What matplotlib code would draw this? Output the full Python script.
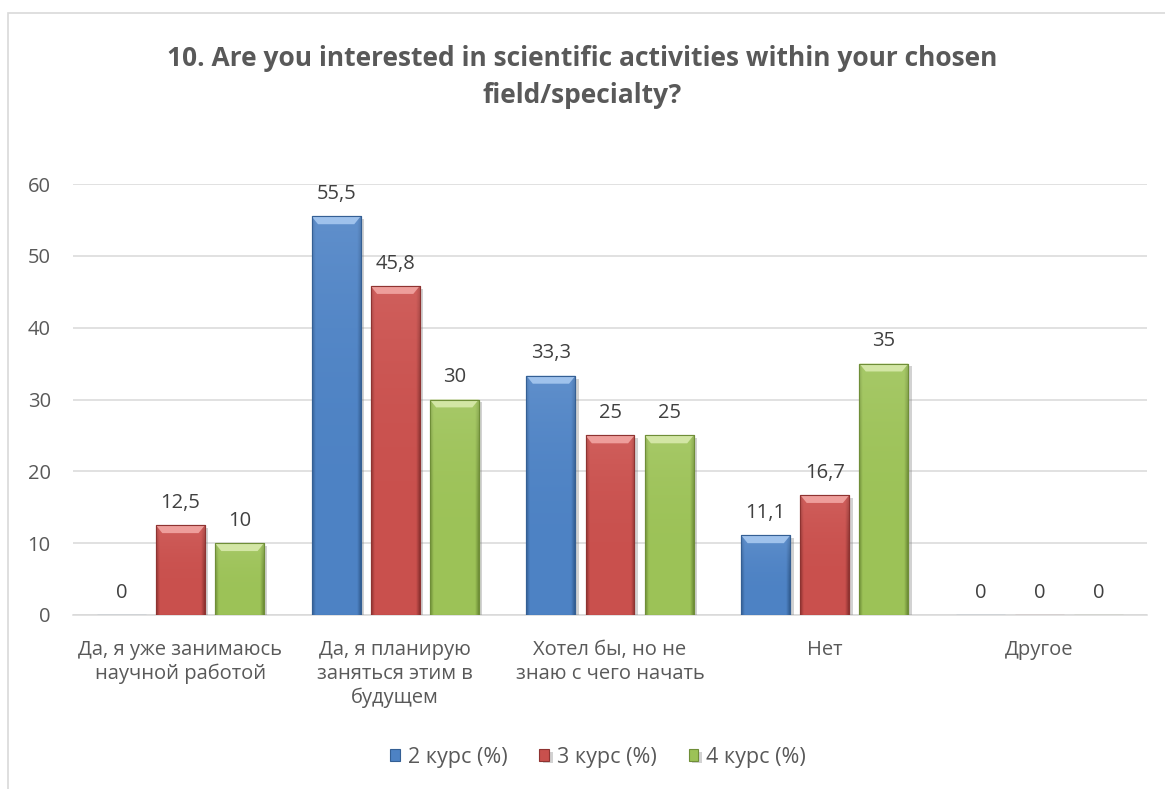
import numpy as np
import matplotlib
matplotlib.use("Agg")
import matplotlib.pyplot as plt
from matplotlib.patches import Rectangle, Polygon
from matplotlib.colors import LinearSegmentedColormap
import matplotlib.patheffects as pe

plt.rcParams['font.family'] = ['Open Sans', 'DejaVu Sans']

title = "10. Are you interested in scientific activities within your chosen\nfield/specialty?"
categories = ["Да, я уже занимаюсь\nнаучной работой",
              "Да, я планирую\nзаняться этим в\nбудущем",
              "Хотел бы, но не\nзнаю с чего начать",
              "Нет",
              "Другое"]
series_names = ["2 курс (%)", "3 курс (%)", "4 курс (%)"]
course2 = [0, 55.5, 33.3, 11.1, 0]
course3 = [12.5, 45.8, 25, 16.7, 0]
course4 = [10, 30, 25, 35, 0]
series = [course2, course3, course4]
yticks = [0, 10, 20, 30, 40, 50, 60]

base_colors = ["#4D82C4", "#C9504D", "#9CC257"]
top_body = ["#6C98D0", "#D46966", "#AECD73"]
dark_colors = ["#345F94", "#8E3331", "#6F8E38"]
top_colors = ["#9FC2EC", "#EE9E9B", "#D3E6A5"]
text_col = "#595959"

fig = plt.figure(figsize=(11.65, 7.89), dpi=100)
fig.patch.set_facecolor("white")
fig.add_artist(Rectangle((8/1165, -0.02), 1.02, 1 - 13/789 + 0.02, transform=fig.transFigure,
                         fill=False, edgecolor="#D9D9D9", linewidth=1.2))

ax = fig.add_axes([73/1165, 1 - 615/789, (1147-73)/1165, (615-184)/789])
x = np.arange(len(categories))
bw = 0.228
step = 0.275

for i, vals in enumerate(series):
    pos = x + (i - 1) * step
    bars = ax.bar(pos, vals, width=bw, color=base_colors[i], edgecolor=dark_colors[i],
                  linewidth=0.8, zorder=3, label=series_names[i])
    hcm = LinearSegmentedColormap.from_list(
        "h", [(0, dark_colors[i]), (0.07, base_colors[i]), (0.93, base_colors[i]), (1, dark_colors[i])])
    for b, v in zip(bars, vals):
        if v > 0:
            b.set_path_effects([pe.SimplePatchShadow(offset=(2.5, -2), shadow_rgbFace="#7F7F7F", alpha=0.35),
                                pe.Normal()])
            x0, w = b.get_x(), b.get_width()
            n = 64
            hg = hcm(np.linspace(0, 1, n))[None, :, :3].repeat(n, axis=0)
            vt = np.linspace(1, 0, n)[:, None, None]
            tc = np.array(matplotlib.colors.to_rgb(top_body[i]))[None, None, :]
            mix = np.clip(vt ** 3, 0, 1) * 0.6
            img = hg * (1 - mix) + tc * mix
            im = ax.imshow(img, extent=(x0, x0 + w, 0, v), aspect='auto',
                           zorder=3.5, interpolation='bilinear')
            im.set_clip_path(b)
            bh = 1.1
            inset = w * 0.13
            ax.add_patch(Polygon([(x0, v), (x0 + w, v), (x0 + w - inset, v - bh), (x0 + inset, v - bh)],
                                 closed=True, facecolor=top_colors[i], edgecolor='none', zorder=4))
            ax.add_patch(Rectangle((x0, 0), w, v, fill=False, edgecolor=dark_colors[i],
                                   linewidth=0.8, zorder=4.5))
        lab = ("%g" % v).replace(".", ",")
        ax.annotate(lab, (b.get_x() + b.get_width() / 2, v), xytext=(0, 9), textcoords='offset points',
                    ha='center', va='bottom', fontsize=14.5, color="#404040", zorder=5)

ax.set_xlim(-0.5, len(categories) - 0.5)
ax.set_ylim(0, 60)
ax.set_yticks(yticks)
ax.set_yticklabels([str(t) for t in yticks])
ax.yaxis.grid(True, color="#D9D9D9", linewidth=1.1, zorder=0)
ax.set_axisbelow(True)
for s in ["top", "right", "left"]:
    ax.spines[s].set_visible(False)
ax.spines["bottom"].set_color("#D9D9D9")
ax.spines["bottom"].set_linewidth(1.1)
ax.tick_params(axis='y', length=0, pad=16, labelsize=14.5, labelcolor=text_col)
ax.set_xticks(x)
ax.set_xticklabels(categories, fontsize=14.5, color=text_col, linespacing=1.25, va='top')
ax.tick_params(axis='x', length=0, pad=18)

fig.text(0.5, 1 - 77/789, title, ha='center', va='center', fontsize=19, fontweight='bold',
         color=text_col, linespacing=1.5)

leg = fig.legend(loc='center', bbox_to_anchor=(598/1165, 1 - 757/789), ncol=3, frameon=False,
                 fontsize=15.5, handlelength=0.45, handleheight=0.45, handletextpad=0.35,
                 columnspacing=1.5, labelcolor=text_col)

fig.savefig("out.png", dpi=100, facecolor="white")
